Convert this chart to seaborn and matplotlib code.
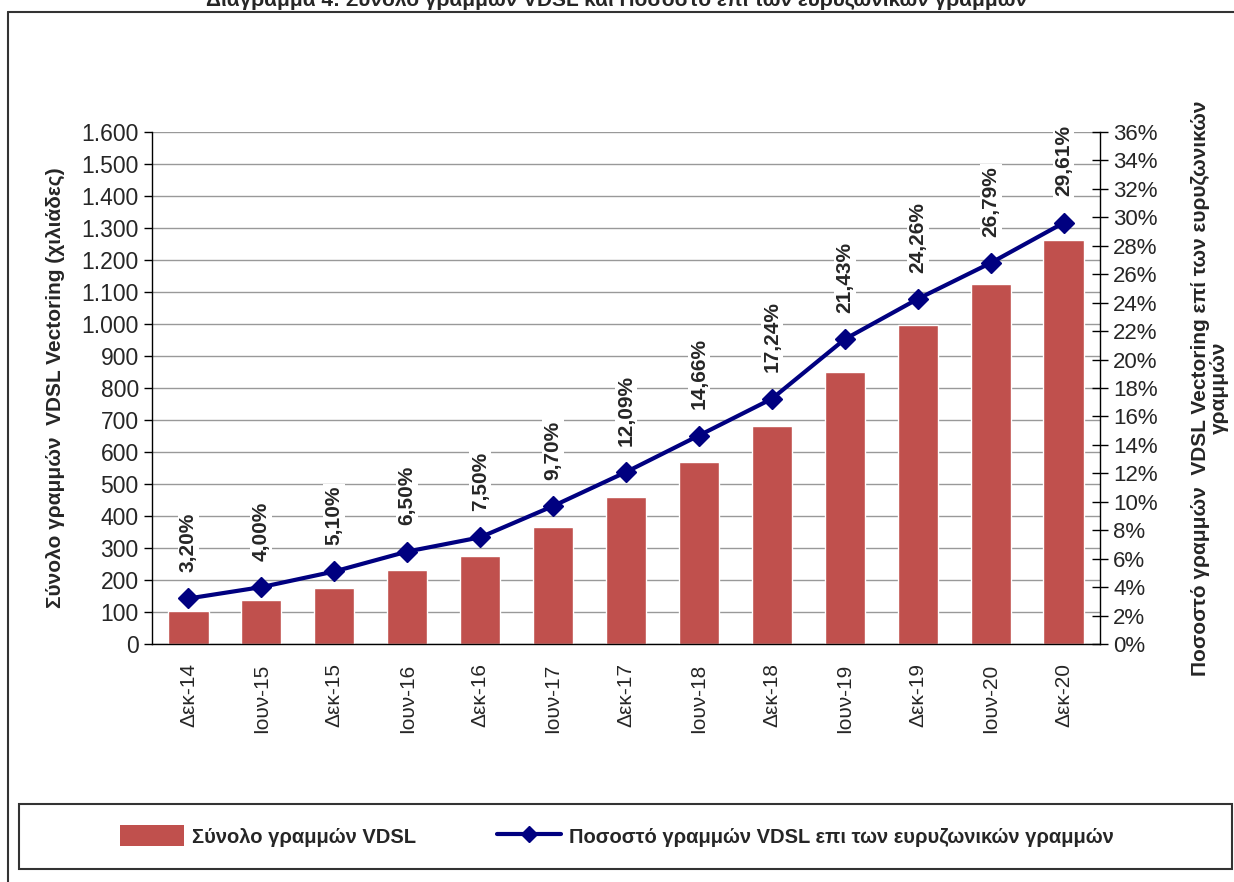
import matplotlib
matplotlib.use("Agg")
import matplotlib.pyplot as plt
import seaborn as sns
import pandas as pd
import numpy as np
from matplotlib.lines import Line2D
from matplotlib.patches import Rectangle, Patch

# --- Datos ---
periodos = ['Δεκ-14', 'Ιουν-15', 'Δεκ-15', 'Ιουν-16', 'Δεκ-16', 'Ιουν-17', 'Δεκ-17',
            'Ιουν-18', 'Δεκ-18', 'Ιουν-19', 'Δεκ-19', 'Ιουν-20', 'Δεκ-20']
grammes_vdsl = [102, 137, 175, 231, 275, 365, 459, 569, 681, 850, 997, 1125, 1262]
pososto = [3.20, 4.00, 5.10, 6.50, 7.50, 9.70, 12.09, 14.66, 17.24, 21.43, 24.26, 26.79, 29.61]

df = pd.DataFrame({'periodo': periodos, 'vdsl': grammes_vdsl, 'pct': pososto})

sns.set_style("white")
plt.rcParams['font.family'] = ['Liberation Sans', 'DejaVu Sans']

bar_color = '#C0504D'
line_color = '#000080'

fig = plt.figure(figsize=(12.34, 8.82), dpi=100)
ax = fig.add_axes([152 / 1234, 1 - 644 / 882, 948 / 1234, 512 / 882])

sns.barplot(data=df, x='periodo', y='vdsl', color=bar_color, width=0.55,
            saturation=1, ax=ax, zorder=2)
ax.set_ylim(0, 1600)
ax.set_xlim(-0.5, len(periodos) - 0.5)
ax.set_yticks(range(0, 1601, 100))
ax.set_yticklabels([f'{v:,}'.replace(',', '.') for v in range(0, 1601, 100)], fontsize=16.5)
ax.yaxis.grid(True, color='#999999', linewidth=1)
ax.set_axisbelow(True)
ax.set_xlabel('')
ax.set_ylabel('Σύνολο γραμμών  VDSL Vectoring (χιλιάδες)', fontsize=15,
              fontweight='bold', labelpad=12)
ax.set_xticks(range(len(periodos)))
ax.set_xticklabels(periodos, rotation=90, fontsize=15)
ax.tick_params(axis='x', which='major', length=0, pad=14)
ax.set_xticks(np.arange(len(periodos) + 1) - 0.5, minor=True)
ax.tick_params(axis='x', which='minor', length=10, direction='inout', width=1, color='black')
ax.tick_params(axis='y', length=6, direction='out', width=1, color='black', left=True)
for s in ['top', 'right']:
    ax.spines[s].set_visible(False)
for s in ['left', 'bottom']:
    ax.spines[s].set_color('black')
    ax.spines[s].set_linewidth(1)

# --- Eje derecho: porcentaje ---
ax2 = ax.twinx()
x = np.arange(len(periodos))
ax2.plot(x, df['pct'], color=line_color, linewidth=3, marker='D', markersize=10, zorder=5)
ax2.set_ylim(0, 36)
ax2.set_yticks(range(0, 37, 2))
ax2.set_yticklabels([f'{v}%' for v in range(0, 37, 2)], fontsize=16)
ax2.tick_params(axis='y', length=12, direction='inout', width=1, color='black', right=True)
for s in ['top', 'left', 'bottom']:
    ax2.spines[s].set_visible(False)
ax2.spines['right'].set_color('black')
ax2.spines['right'].set_linewidth(1)
ax2.set_ylabel('Ποσοστό γραμμών  VDSL Vectoring επί των ευρυζωνικών\nγραμμών',
               fontsize=15, fontweight='bold', labelpad=24, linespacing=0.95)

for xi, p in zip(x, df['pct']):
    ax2.annotate(f'{p:.2f}%'.replace('.', ','), (xi, p), xytext=(0, 19),
                 textcoords='offset points', rotation=90, ha='center', va='bottom',
                 fontsize=15, fontweight='bold',
                 bbox=dict(facecolor='white', edgecolor='none', pad=1))

# --- Título (cortado arriba) ---
fig.text(0.5, 1.0, 'Διάγραμμα 4: Σύνολο γραμμών VDSL και Ποσοστό επί των ευρυζωνικών γραμμών',
         ha='center', va='center', fontsize=15, fontweight='bold')

# --- Marco exterior ---
fig.add_artist(Line2D([8 / 1234, 1], [1 - 12 / 882] * 2, color='#333333', linewidth=1.5))
fig.add_artist(Line2D([8 / 1234] * 2, [0, 1 - 12 / 882], color='#333333', linewidth=1.5))

# --- Leyenda ---
fig.add_artist(Rectangle((19 / 1234, 1 - 869 / 882), 1213 / 1234, 65 / 882,
                         transform=fig.transFigure, fill=False, edgecolor='#333333',
                         linewidth=1.5))
handles = [Patch(facecolor=bar_color, edgecolor='none'),
           Line2D([0], [0], color=line_color, linewidth=3, marker='D', markersize=8)]
labels = ['Σύνολο γραμμών VDSL', 'Ποσοστό γραμμών VDSL επι των ευρυζωνικών γραμμών']
fig.legend(handles, labels, loc='center', bbox_to_anchor=(0.5, 1 - 836 / 882),
           ncol=2, frameon=False, prop={'size': 14.5, 'weight': 'bold'},
           columnspacing=4, handlelength=3.2, handleheight=1.2, handletextpad=0.4)

fig.savefig('out.png', dpi=100)
